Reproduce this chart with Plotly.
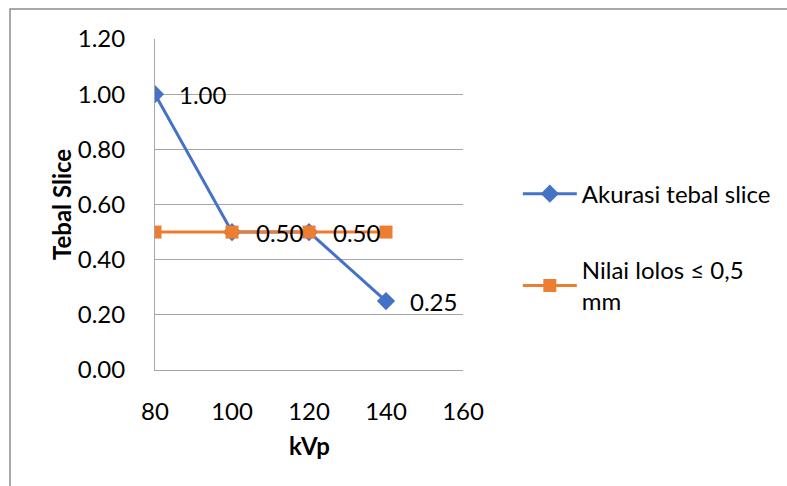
import plotly.graph_objects as go

kvp = [80, 100, 120, 140]
akurasi = [1.00, 0.50, 0.50, 0.25]
nilai_lolos = [0.5, 0.5, 0.5, 0.5]
label_akurasi = ["1.00", "0.50", "0.50", "0.25"]
y_ticks = [0.0, 0.2, 0.4, 0.6, 0.8, 1.0, 1.2]
x_ticks = [80, 100, 120, 140, 160]
x_title = "kVp"
y_title = "Tebal Slice"

FONT = "Lato"
FS = 24
BLUE = "#4472C4"
ORANGE = "#ED7D31"
GRID = "#a6a6a6"

fig = go.Figure()
fig.add_trace(go.Scatter(
    x=kvp, y=akurasi, mode="lines+markers", name="Akurasi tebal slice",
    line=dict(color=BLUE, width=3),
    marker=dict(symbol="diamond", size=14, color=BLUE),
    legendgroup="a",
))
fig.add_trace(go.Scatter(
    x=kvp, y=nilai_lolos, mode="lines+markers", name="Nilai lolos ≤ 0,5<br>mm",
    line=dict(color=ORANGE, width=3),
    marker=dict(symbol="square", size=13, color=ORANGE),
    legendgroup="b",
))

for xv, yv, t in zip(kvp, akurasi, label_akurasi):
    fig.add_annotation(x=xv, y=yv, text=t, showarrow=False, xanchor="left",
                       yanchor="middle", xshift=22,
                       font=dict(family=FONT, size=FS, color="#000000"))

# axis titles
fig.add_annotation(xref="paper", yref="paper", x=(61 - 155) / 308, y=(370 - 205) / 331,
                   text="<b>" + y_title + "</b>", textangle=-90, showarrow=False,
                   xanchor="center", yanchor="middle",
                   font=dict(family=FONT, size=FS, color="#000000"))
fig.add_annotation(xref="paper", yref="paper", x=0.5, y=(370 - 445) / 331,
                   text="<b>" + x_title + "</b>", showarrow=False,
                   xanchor="center", yanchor="middle",
                   font=dict(family=FONT, size=FS, color="#000000"))

fig.add_shape(type="rect", xref="paper", yref="paper",
              x0=-145/308, x1=700/308, y0=(370-520)/331, y1=(370-9)/331,
              line=dict(color="#8c8c8c", width=1.5), layer="below")

fig.update_layout(
    width=787, height=486,
    margin=dict(l=155, r=324, t=39, b=116, autoexpand=False),
    paper_bgcolor="white", plot_bgcolor="white",
    font=dict(family=FONT, size=FS, color="#000000"),
    showlegend=True,
    legend=dict(x=1.178, xanchor="left", y=0.37, yanchor="middle",
                font=dict(family=FONT, size=FS, color="#000000"),
                tracegroupgap=42, itemwidth=54, bgcolor="rgba(0,0,0,0)"),
    xaxis=dict(range=[80, 160], tickvals=x_ticks, showgrid=False,
               showline=True, linecolor=GRID, linewidth=1, automargin=False,
               ticks="", ticklabelstandoff=20, zeroline=False),
    yaxis=dict(range=[0, 1.2], tickvals=y_ticks, tickformat=".2f",
               showgrid=True, gridcolor=GRID, gridwidth=1, automargin=False,
               showline=True, linecolor=GRID, linewidth=1,
               ticks="", ticklabelstandoff=24, zeroline=False),
)

fig.write_html("out.html")
